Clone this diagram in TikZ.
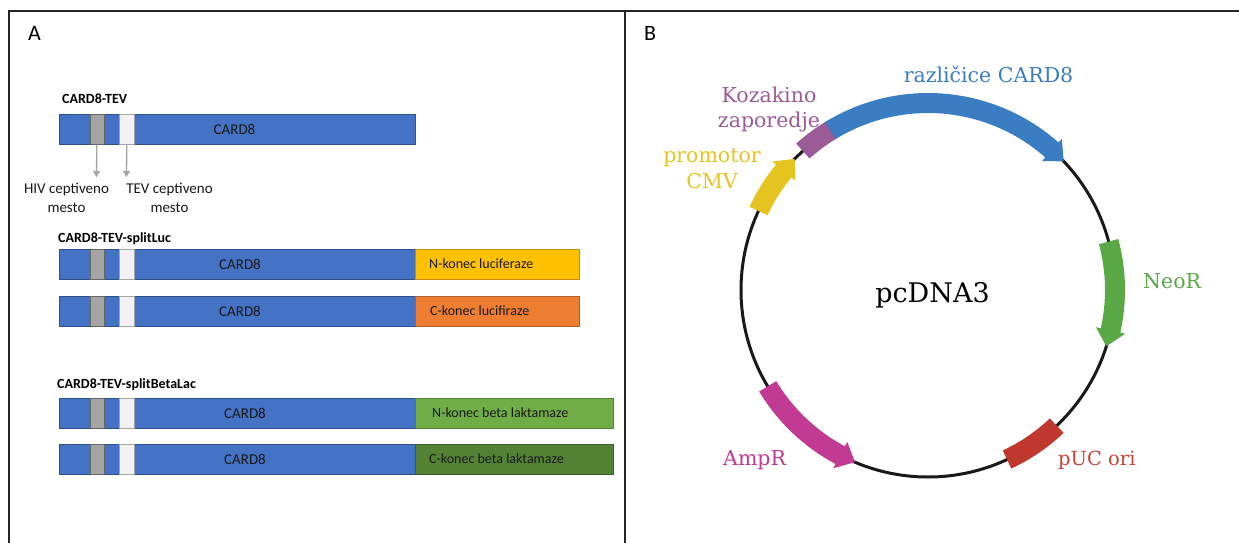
\documentclass[tikz,border=0pt]{standalone}
\usepackage{fontspec}
\setmainfont{Carlito}
\newfontfamily\plserif{DejaVu Serif}
\usetikzlibrary{arrows.meta}
\definecolor{cardblue}{HTML}{4472C4}
\definecolor{cardedge}{HTML}{2F528F}
\definecolor{hivgray}{HTML}{A5A5A5}
\definecolor{tevwhite}{HTML}{F2F2F2}
\definecolor{lucyellow}{HTML}{FFC000}
\definecolor{lucorange}{HTML}{ED7D31}
\definecolor{bllight}{HTML}{70AD47}
\definecolor{bldark}{HTML}{548235}
\definecolor{pblue}{HTML}{3A7DC3}
\definecolor{ppurple}{HTML}{9B5B98}
\definecolor{pyellow}{HTML}{E6C41F}
\definecolor{pgreen}{HTML}{5BA846}
\definecolor{pmagenta}{HTML}{C23B92}
\definecolor{pred}{HTML}{C0372E}
\definecolor{predtext}{HTML}{C8453C}
\definecolor{framec}{HTML}{262626}
\tikzset{
  frameline/.style={draw=framec, line width=1.4pt},
  panellbl/.style={font=\fontsize{22}{26}\selectfont, inner sep=0pt, anchor=base west},
  constitle/.style={font=\bfseries\fontsize{14}{17}\selectfont, inner sep=0pt, anchor=base west},
  barbase/.style={minimum height=30pt, inner sep=0pt, anchor=north west, line width=0.6pt},
  cardbox/.style={barbase, fill=cardblue, draw=cardedge},
  hivbox/.style={barbase, fill=hivgray, draw=gray!80!black, minimum width=14pt},
  tevbox/.style={barbase, fill=tevwhite, draw=hivgray, minimum width=15pt},
  segbox/.style={barbase, draw=#1!75!black, fill=#1},
  bartext/.style={font=\fontsize{15}{18}\selectfont, inner sep=0pt, text=black!90},
  segtext/.style={font=\fontsize{14}{17}\selectfont, inner sep=0pt, anchor=west, text=black!90},
  sitelbl/.style={font=\fontsize{15}{19}\selectfont, inner sep=0pt, anchor=north, align=center, text=black!90},
  garrow/.style={draw=hivgray, line width=1.3pt, -{Triangle[length=6pt,width=7pt]}},
  plbl/.style={font=\plserif\fontsize{20.5}{25}\selectfont, inner sep=0pt}
}
\newcommand\cardrow[3]{% name, top y, text x
  \node[cardbox, minimum width=356pt] (#1) at (59,#2) {};
  \node[hivbox] (#1hiv) at (89.5,#2) {};
  \node[tevbox] (#1tev) at (119,#2) {};
  \node[bartext] (#1txt) at (#3,#2+15) {CARD8};
}
\def\plR{187}\def\plRo{197}\def\plRi{177}\def\plRh{202}\def\plRl{172}\def\plHL{5}
\newcommand\plasArrow[3]{%
  \pgfmathsetmacro\pa{#2}\pgfmathsetmacro\pb{#3}%
  \pgfmathsetmacro\pc{\pb-sign(\pb-\pa)*\plHL}%
  \fill[#1] (\pa:\plRo) arc[start angle=\pa, end angle=\pc, radius=\plRo]
    -- (\pc:\plRh) -- (\pb:\plR) -- (\pc:\plRl) -- (\pc:\plRi)
    arc[start angle=\pc, end angle=\pa, radius=\plRi] -- cycle;}
\newcommand\plasBlock[3]{%
  \pgfmathsetmacro\pa{#2}\pgfmathsetmacro\pb{#3}%
  \fill[#1] (\pa:\plRo) arc[start angle=\pa, end angle=\pb, radius=\plRo]
    -- (\pb:\plRi) arc[start angle=\pb, end angle=\pa, radius=\plRi] -- cycle;}
\begin{document}
\begin{tikzpicture}[x=1pt,y=-1pt]
\useasboundingbox (0,0) rectangle (1239,543);
\fill[white] (0,0) rectangle (1239,543);
% frame
\draw[frameline] (9,543) -- (9,11) -- (1239,11);
\draw[frameline] (625,11) -- (625,543);
\node[panellbl] (lblA) at (28,41) {A};
\node[panellbl] (lblB) at (644,41) {B};

% ---------- panel A ----------
\node[constitle] (t1) at (62,103) {CARD8-TEV};
\cardrow{r1}{114}{234.5}
\coordinate (hivtip) at (96.5,177);
\coordinate (tevtip) at (126.5,177);
\draw[garrow] (r1hiv.south) -- (hivtip);
\draw[garrow] (r1tev.south) -- (tevtip);
\node[sitelbl] (hivlbl) at (66.5,183) {HIV ceptiveno\\mesto};
\node[sitelbl] (tevlbl) at (169.5,183) {TEV ceptiveno\\mesto};

\node[constitle] (t2) at (58,242) {CARD8-TEV-splitLuc};
\cardrow{r2}{249}{240}
\node[segbox=lucyellow, minimum width=164pt] (r2seg) at (415,249) {};
\node[segtext] (r2segtxt) at (429,264) {N-konec luciferaze};
\cardrow{r3}{296}{240}
\node[segbox=lucorange, minimum width=164pt] (r3seg) at (415,296) {};
\node[segtext] (r3segtxt) at (430,311) {C-konec lucifiraze};

\node[constitle] (t3) at (57,388) {CARD8-TEV-splitBetaLac};
\cardrow{r4}{398}{245}
\node[segbox=bllight, minimum width=198pt] (r4seg) at (415,398) {};
\node[segtext] (r4segtxt) at (432,413) {N-konec beta laktamaze};
\cardrow{r5}{444}{245}
\node[segbox=bldark, minimum width=198pt] (r5seg) at (415,444) {};
\node[segtext] (r5segtxt) at (429,459) {C-konec beta laktamaze};

% ---------- panel B ----------
\begin{scope}[shift={(928,290)}, y=1pt]
  \draw[line width=3pt, black!90] (0,0) circle[radius=\plR];
  \plasBlock{ppurple}{132}{121}
  \plasArrow{pblue}{121.5}{43.5}
  \plasArrow{pyellow}{155}{135.5}
  \plasArrow{pgreen}{15}{-17.5}
  \plasArrow{pmagenta}{211}{247}
  \plasBlock{pred}{-65}{-46.5}
\end{scope}
\node[plbl, font=\plserif\fontsize{27}{30}\selectfont, anchor=base] (pc) at (932.5,302) {pcDNA3};
\node[plbl, anchor=base, text=pblue] (lcard) at (988.5,82) {različice CARD8};
\node[plbl, anchor=north, align=center, text=ppurple] (lkoz) at (769,86.5) {Kozakino\\zaporedje};
\node[plbl, anchor=north, align=center, text=pyellow, font=\plserif\fontsize{20.5}{26}\selectfont] (lcmv) at (712,148.5) {promotor\\CMV};
\node[plbl, anchor=base west, text=pgreen] (lneo) at (1143,288) {NeoR};
\node[plbl, anchor=base west, text=pmagenta] (lamp) at (723,465) {AmpR};
\node[plbl, anchor=base west, text=predtext, font=\plserif\fontsize{19.5}{24}\selectfont] (lori) at (1058,465) {pUC ori};
\end{tikzpicture}
\end{document}
